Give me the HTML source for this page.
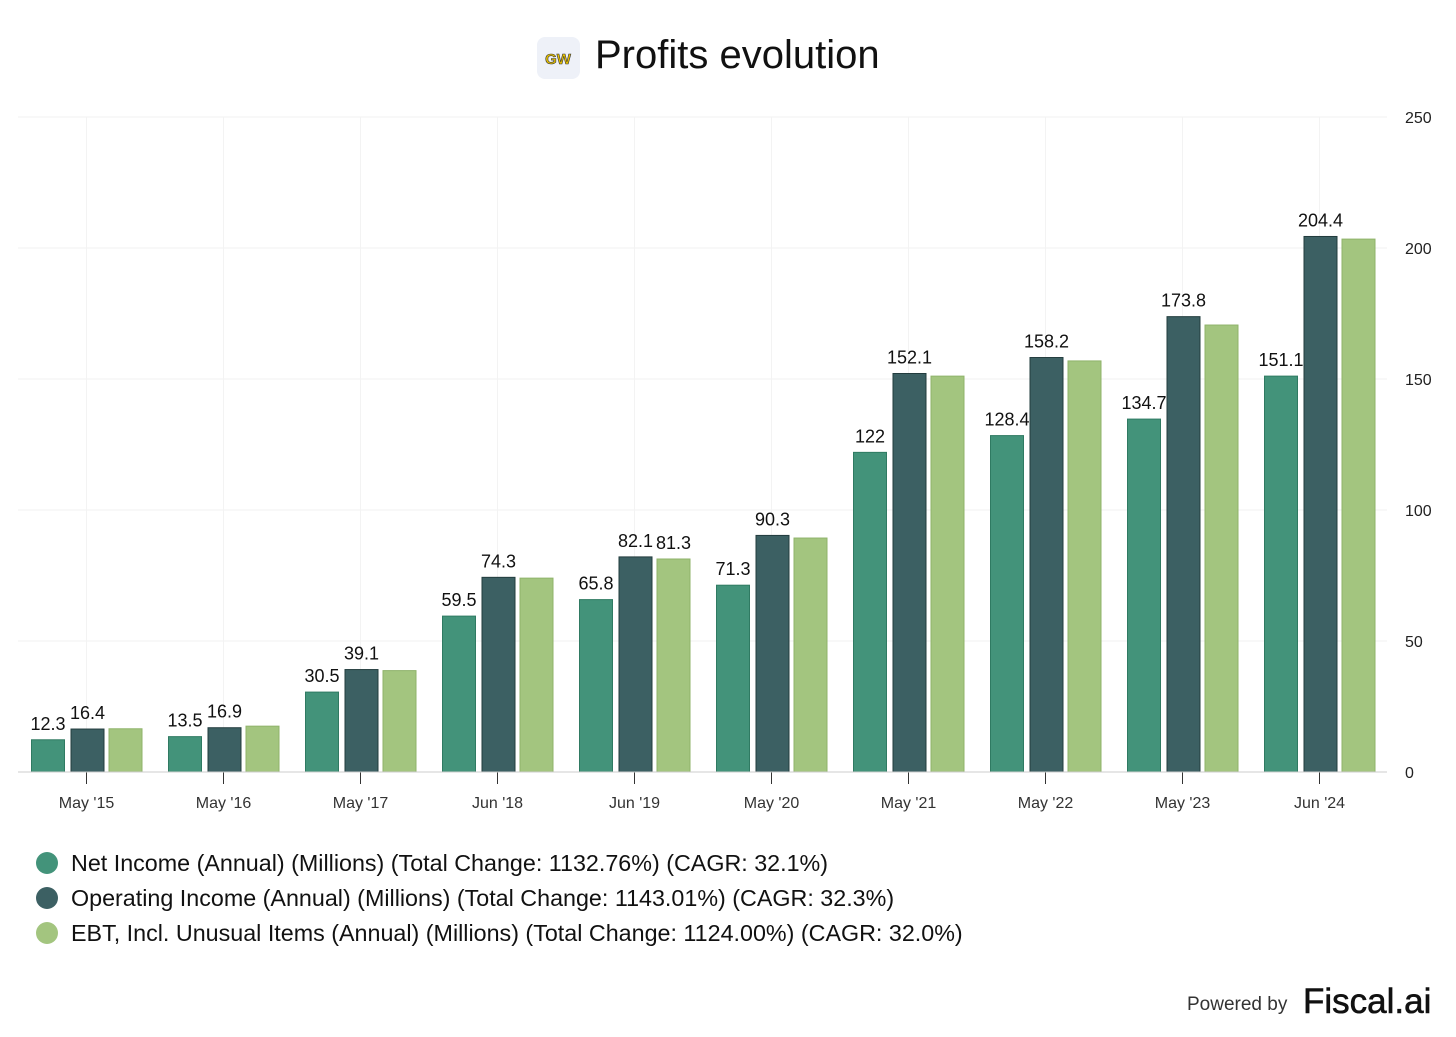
<!DOCTYPE html>
<html><head><meta charset="utf-8"><style>
body{margin:0;background:#fff;font-family:"Liberation Sans",Arial,sans-serif;}
svg text{font-family:"Liberation Sans",Arial,sans-serif;}
</style></head><body>
<svg id="c" width="1456" height="1032">
<g>
<rect x="537" y="37" width="43" height="42" rx="8" fill="#eef1f8"/>
<text x="558" y="64" text-anchor="middle" font-size="15" font-weight="bold" fill="#e8c200" stroke="#333" stroke-width="0.6">GW</text>
<text x="595" y="68" font-size="40" fill="#111">Profits evolution</text>
</g>
<g id="grid"></g><g id="bars"></g><g id="labels"></g><g id="axes"></g>
<g>
<circle cx="47" cy="863" r="11" fill="#43937a"/>
<text x="71" y="871" font-size="23.3" fill="#111">Net Income (Annual) (Millions) (Total Change: 1132.76%) (CAGR: 32.1%)</text>
<circle cx="47" cy="898" r="11" fill="#3c6063"/>
<text x="71" y="906" font-size="23.3" fill="#111">Operating Income (Annual) (Millions) (Total Change: 1143.01%) (CAGR: 32.3%)</text>
<circle cx="47" cy="933" r="11" fill="#a3c57f"/>
<text x="71" y="941" font-size="23.3" fill="#111">EBT, Incl. Unusual Items (Annual) (Millions) (Total Change: 1124.00%) (CAGR: 32.0%)</text>
</g>
<g>
<text x="1187" y="1010" font-size="19" fill="#333">Powered by</text>
<text x="1303" y="1013" font-size="35" fill="#111" stroke="#111" stroke-width="0.6">Fiscal.ai</text>
</g>
</svg>
<script>
const categories=["May '15","May '16","May '17","Jun '18","Jun '19","May '20","May '21","May '22","May '23","Jun '24"];
const netIncome=[12.3,13.5,30.5,59.5,65.8,71.3,122,128.4,134.7,151.1];
const operatingIncome=[16.4,16.9,39.1,74.3,82.1,90.3,152.1,158.2,173.8,204.4];
const ebt=[16.5,17.5,38.7,74.0,81.3,89.3,151.1,156.9,170.6,203.4];
const yTicks=[0,50,100,150,200,250];
const showEbtLabel=[false,false,false,false,true,false,false,false,false,false];
const NS="http://www.w3.org/2000/svg";
const y0=772,yTop=117,yMax=250;
const y=v=>y0-(v/yMax)*(y0-yTop);
const x=i=>86.5+i*137;
function mk(tag,attrs,parent){const e=document.createElementNS(NS,tag);for(const k in attrs)e.setAttribute(k,attrs[k]);document.getElementById(parent).appendChild(e);return e;}
yTicks.forEach(t=>{
 if(t>0){const g=mk('line',{x1:18,x2:1387,y1:y(t),y2:y(t),stroke:'#f0f0f0'},'grid');
 
 }
 const l=mk('text',{x:1405,y:y(t)+6,'font-size':16,fill:'#222'},'axes');l.textContent=t;
 
 
});
const series=[[netIncome,'#43937a','#2f7a62',-38.5],[operatingIncome,'#3c6063','#223c3e',1],[ebt,'#a3c57f','#8fb36a',39]];
categories.forEach((c,i)=>{
 const g=mk('line',{x1:x(i),x2:x(i),y1:yTop,y2:y0,stroke:'#f3f3f3'},'grid');
 
 
 series.forEach((s,k)=>{
  const v=s[0][i],cx=x(i)+s[3];
  const r=mk('rect',{x:cx-16.5,y:y(v),width:33,height:y0-y(v),fill:s[1],stroke:s[2],'stroke-width':1},'bars');
  
  
  if(k<2||showEbtLabel[i]){
   const t=mk('text',{x:cx,y:y(v)-10,'font-size':18,'text-anchor':'middle',fill:'#111'},'labels');
   t.textContent=v;
   
   
  }
 });
 const tk=mk('line',{x1:x(i),x2:x(i),y1:y0,y2:y0+12,stroke:'#333'},'axes');
 
 
 const lb=mk('text',{x:x(i),y:808,'font-size':16,'text-anchor':'middle',fill:'#333'},'axes');
 lb.textContent=c;
 
 
});
const ax=mk('line',{x1:18,x2:1387,y1:y0,y2:y0,stroke:'#ccc'},'axes');


</script>
</body></html>
